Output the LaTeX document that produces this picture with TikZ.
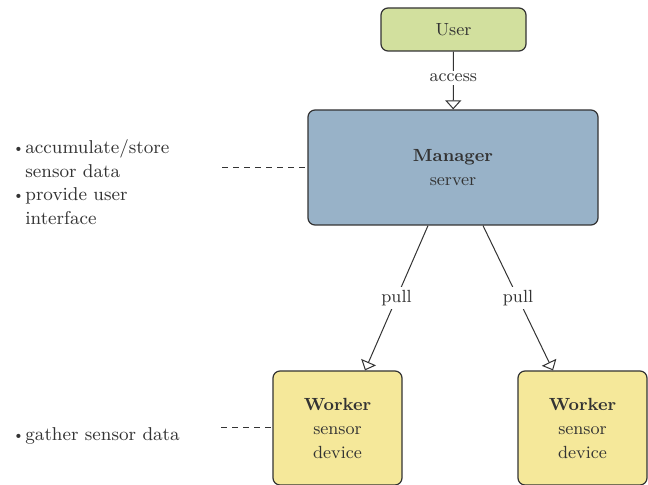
\documentclass[tikz,border=0pt]{standalone}
\usepackage{xcolor}
\usetikzlibrary{arrows.meta}
\definecolor{userfill}{HTML}{D2E09E}
\definecolor{mgrfill}{HTML}{98B2C8}
\definecolor{wrkfill}{HTML}{F5E89A}
\definecolor{ink}{HTML}{333333}
\newcommand{\blt}{\makebox[6.5pt][l]{\raisebox{0.6pt}{\scriptsize\textbullet}}}
\begin{document}
\begin{tikzpicture}[x=0.5pt, y=-0.5pt,
  every node/.style={font=\fontsize{8.8}{12}\selectfont, text=ink},
  box/.style={draw=ink, rounded corners=3.5pt, align=center, inner sep=0pt, line width=0.6pt},
  flow/.style={draw=ink, line width=0.5pt, -{Triangle[open, width=8pt, length=4.5pt]}},
  note/.style={draw=ink, line width=0.5pt, dash pattern=on 3pt off 2.5pt},
  bullets/.style={anchor=west, align=left, inner sep=0pt, font=\fontsize{9.3}{11.8}\selectfont},
  lbl/.style={fill=white, inner sep=1.5pt}]
\useasboundingbox (0,0) rectangle (648,485);
% Boxes
\node[box, fill=userfill, minimum width=72.5pt, minimum height=21.5pt] (user) at (453.5,29.5) {User};
\node[box, fill=mgrfill, minimum width=145pt, minimum height=57.5pt] (manager) at (453,167.5) {\textbf{Manager}\\server};
\node[box, fill=wrkfill, minimum width=64.5pt, minimum height=57pt] (workerA) at (337.5,428) {\textbf{Worker}\\sensor\\device};
\node[box, fill=wrkfill, minimum width=64.5pt, minimum height=57pt] (workerB) at (582.5,428) {\textbf{Worker}\\sensor\\device};

% Arrows
\draw[flow] (user) -- node[lbl, pos=0.45] {access} (manager);
\draw[flow] ([xshift=-12.5pt]manager.south) -- node[lbl] {pull} ([xshift=13.75pt]workerA.north);
\draw[flow] ([xshift=15pt]manager.south) -- node[lbl] {pull} ([xshift=-14.75pt]workerB.north);

% Notes
\coordinate (mgrtip) at (222,167.5);
\coordinate (wrktip) at (221,428);
\draw[note] (mgrtip) -- (manager.west);
\draw[note] (wrktip) -- (workerA.west);
\node[bullets] (mgrnote) at (12,182) {\blt accumulate/store\\\hphantom{\blt}sensor data\\\blt provide user\\\hphantom{\blt}interface};
\node[bullets] (wrknote) at (12,436) {\blt gather sensor data};
\end{tikzpicture}
\end{document}
